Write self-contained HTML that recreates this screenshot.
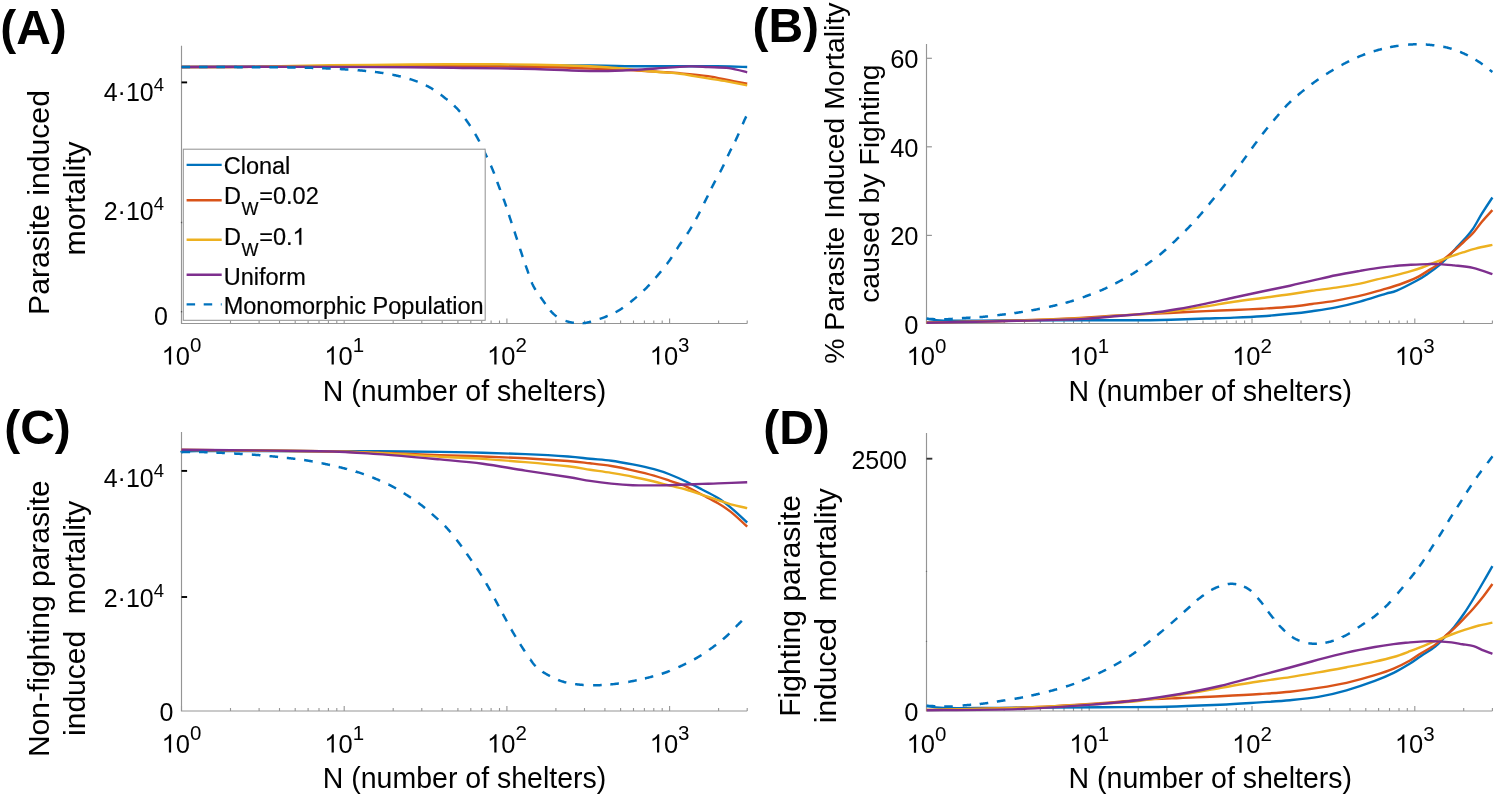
<!DOCTYPE html>
<html><head><meta charset="utf-8"><style>
html,body{margin:0;padding:0;background:#fff;}
svg{display:block;}
text{font-family:"Liberation Sans", sans-serif;fill:#000;}
</style></head><body>
<svg width="1500" height="796" viewBox="0 0 1500 796">
<rect width="1500" height="796" fill="#fff"/>
<path d="M181.5,45.7 L181.5,323.5 L747.2,323.5" fill="none" stroke="#959595" stroke-width="1.15"/>
<line x1="181.5" y1="323.5" x2="181.5" y2="318.5" stroke="#959595" stroke-width="1.1"/>
<line x1="230.5" y1="323.5" x2="230.5" y2="320.5" stroke="#959595" stroke-width="1.1"/>
<line x1="259.1" y1="323.5" x2="259.1" y2="320.5" stroke="#959595" stroke-width="1.1"/>
<line x1="279.5" y1="323.5" x2="279.5" y2="320.5" stroke="#959595" stroke-width="1.1"/>
<line x1="295.2" y1="323.5" x2="295.2" y2="320.5" stroke="#959595" stroke-width="1.1"/>
<line x1="308.1" y1="323.5" x2="308.1" y2="320.5" stroke="#959595" stroke-width="1.1"/>
<line x1="319.0" y1="323.5" x2="319.0" y2="320.5" stroke="#959595" stroke-width="1.1"/>
<line x1="328.4" y1="323.5" x2="328.4" y2="320.5" stroke="#959595" stroke-width="1.1"/>
<line x1="336.8" y1="323.5" x2="336.8" y2="320.5" stroke="#959595" stroke-width="1.1"/>
<line x1="344.2" y1="323.5" x2="344.2" y2="318.5" stroke="#959595" stroke-width="1.1"/>
<line x1="393.2" y1="323.5" x2="393.2" y2="320.5" stroke="#959595" stroke-width="1.1"/>
<line x1="421.8" y1="323.5" x2="421.8" y2="320.5" stroke="#959595" stroke-width="1.1"/>
<line x1="442.2" y1="323.5" x2="442.2" y2="320.5" stroke="#959595" stroke-width="1.1"/>
<line x1="457.9" y1="323.5" x2="457.9" y2="320.5" stroke="#959595" stroke-width="1.1"/>
<line x1="470.8" y1="323.5" x2="470.8" y2="320.5" stroke="#959595" stroke-width="1.1"/>
<line x1="481.7" y1="323.5" x2="481.7" y2="320.5" stroke="#959595" stroke-width="1.1"/>
<line x1="491.1" y1="323.5" x2="491.1" y2="320.5" stroke="#959595" stroke-width="1.1"/>
<line x1="499.5" y1="323.5" x2="499.5" y2="320.5" stroke="#959595" stroke-width="1.1"/>
<line x1="506.9" y1="323.5" x2="506.9" y2="318.5" stroke="#959595" stroke-width="1.1"/>
<line x1="555.9" y1="323.5" x2="555.9" y2="320.5" stroke="#959595" stroke-width="1.1"/>
<line x1="584.5" y1="323.5" x2="584.5" y2="320.5" stroke="#959595" stroke-width="1.1"/>
<line x1="604.9" y1="323.5" x2="604.9" y2="320.5" stroke="#959595" stroke-width="1.1"/>
<line x1="620.6" y1="323.5" x2="620.6" y2="320.5" stroke="#959595" stroke-width="1.1"/>
<line x1="633.5" y1="323.5" x2="633.5" y2="320.5" stroke="#959595" stroke-width="1.1"/>
<line x1="644.4" y1="323.5" x2="644.4" y2="320.5" stroke="#959595" stroke-width="1.1"/>
<line x1="653.8" y1="323.5" x2="653.8" y2="320.5" stroke="#959595" stroke-width="1.1"/>
<line x1="662.2" y1="323.5" x2="662.2" y2="320.5" stroke="#959595" stroke-width="1.1"/>
<line x1="669.6" y1="323.5" x2="669.6" y2="318.5" stroke="#959595" stroke-width="1.1"/>
<line x1="718.6" y1="323.5" x2="718.6" y2="320.5" stroke="#959595" stroke-width="1.1"/>
<line x1="747.2" y1="323.5" x2="747.2" y2="320.5" stroke="#959595" stroke-width="1.1"/>
<line x1="181.5" y1="82.4" x2="187.1" y2="82.4" stroke="#000" stroke-width="1.9"/>
<line x1="180.9" y1="222.5" x2="182.20000000000002" y2="222.5" stroke="#555" stroke-width="1.4"/>
<line x1="180.9" y1="311.7" x2="182.20000000000002" y2="311.7" stroke="#555" stroke-width="1.4"/>
<path d="M181.5,67.0 C201.2,66.9 255.2,66.7 300.0,66.5 C344.8,66.3 401.7,66.0 450.0,65.8 C498.3,65.6 559.3,65.4 590.0,65.5 C620.7,65.6 612.8,66.2 634.0,66.3 C655.2,66.4 698.1,66.2 717.0,66.3 C735.9,66.4 742.2,66.9 747.2,67.0" fill="none" stroke="#0072BD" stroke-width="2.4" stroke-linejoin="round"/>
<path d="M181.5,67.0 C194.6,67.0 235.2,67.0 260.0,66.9 C284.8,66.8 306.7,66.6 330.0,66.5 C353.3,66.4 376.7,66.3 400.0,66.3 C423.3,66.2 447.5,66.1 470.0,66.2 C492.5,66.3 515.0,66.4 535.0,66.8 C555.0,67.2 577.2,68.1 590.0,68.5 C602.8,68.9 604.7,68.7 612.0,69.0 C619.3,69.3 622.7,69.6 634.0,70.3 C645.3,71.0 667.7,72.3 680.0,73.3 C692.3,74.3 699.8,74.9 708.0,76.1 C716.2,77.3 722.5,79.0 729.0,80.3 C735.5,81.6 744.2,83.2 747.2,83.8" fill="none" stroke="#D95319" stroke-width="2.4" stroke-linejoin="round"/>
<path d="M181.5,67.0 C192.9,67.0 233.6,67.0 250.0,66.9 C266.4,66.8 266.7,66.6 280.0,66.3 C293.3,66.0 308.3,65.6 330.0,65.3 C351.7,65.0 386.7,64.7 410.0,64.5 C433.3,64.3 449.2,64.2 470.0,64.2 C490.8,64.2 515.0,64.4 535.0,64.7 C555.0,65.0 577.2,65.8 590.0,66.3 C602.8,66.8 604.7,67.2 612.0,67.7 C619.3,68.2 626.7,68.9 634.0,69.6 C641.3,70.3 648.3,71.1 656.0,71.8 C663.7,72.5 673.7,73.0 680.0,73.7 C686.3,74.4 689.3,75.3 694.0,76.1 C698.7,76.9 702.5,77.5 708.0,78.4 C713.5,79.3 720.2,80.2 726.7,81.4 C733.2,82.6 743.8,84.7 747.2,85.4" fill="none" stroke="#EDB120" stroke-width="2.4" stroke-linejoin="round"/>
<path d="M181.5,67.0 C197.9,67.0 241.9,66.8 280.0,66.8 C318.1,66.8 378.3,67.0 410.0,67.2 C441.7,67.4 449.2,67.7 470.0,68.0 C490.8,68.3 515.0,68.5 535.0,69.0 C555.0,69.5 574.7,70.8 590.0,71.0 C605.3,71.2 615.7,70.7 626.7,70.3 C637.7,69.9 645.6,69.2 656.0,68.5 C666.4,67.8 680.3,66.7 689.0,66.4 C697.7,66.2 701.3,66.7 708.0,67.0 C714.7,67.3 722.5,67.2 729.0,68.1 C735.5,69.0 744.2,71.6 747.2,72.3" fill="none" stroke="#7E2F8E" stroke-width="2.4" stroke-linejoin="round"/>
<path d="M181.52,67.00 181.63,67.00 182.02,67.00 182.43,67.00 182.86,67.00 183.31,67.00 183.78,67.00 184.26,67.00 184.77,67.01 185.29,67.01 185.82,67.01 186.38,67.01 186.95,67.01 187.53,67.01 188.13,67.01 188.75,67.01 189.38,67.01 190.02,67.01 190.12,67.01M198.99,67.03 199.23,67.03 200.03,67.03 200.83,67.03 201.65,67.03 202.47,67.03 203.29,67.03 204.13,67.03 204.97,67.04 205.81,67.04 206.67,67.04 207.52,67.04 207.59,67.04M216.41,67.06 216.58,67.06 217.46,67.06 218.35,67.06 219.24,67.07 220.12,67.07 221.01,67.07 221.89,67.07 222.77,67.08 223.65,67.08 224.53,67.08 225.01,67.08M234.17,67.12 234.21,67.12 234.94,67.12 235.68,67.12 236.43,67.12 237.19,67.13 237.95,67.13 238.72,67.13 239.50,67.14 240.29,67.14 241.08,67.14 241.87,67.14 242.67,67.15 242.77,67.15M251.78,67.18 252.03,67.19 252.88,67.19 253.72,67.19 254.56,67.20 255.41,67.20 256.25,67.20 257.10,67.21 257.95,67.21 258.79,67.21 259.63,67.22 260.38,67.22M269.39,67.26 269.57,67.26 270.38,67.27 271.18,67.27 271.97,67.28 272.76,67.28 273.54,67.28 274.31,67.29 275.08,67.29 275.84,67.30 276.59,67.30 277.34,67.31 277.99,67.31M287.00,67.37 287.17,67.37 287.76,67.37 288.33,67.38 288.88,67.38 289.43,67.38 289.96,67.39 290.47,67.39 290.97,67.40 291.86,67.41 293.42,67.42 294.84,67.44 295.60,67.44M304.70,67.65 304.79,67.65 305.24,67.67 305.70,67.69 306.18,67.71 306.69,67.72 307.24,67.74 307.85,67.77 308.52,67.79 309.25,67.81 310.02,67.83 310.78,67.85 311.53,67.87 312.29,67.90 313.05,67.92 313.30,67.93M322.10,68.23 322.35,68.24 323.11,68.27 323.87,68.30 324.62,68.33 325.38,68.36 326.15,68.39 326.90,68.42 327.65,68.45 328.41,68.49 329.16,68.52 329.92,68.55 330.68,68.59 330.70,68.59M339.81,69.05 340.04,69.06 340.80,69.10 341.56,69.15 342.32,69.19 343.09,69.24 343.85,69.28 344.60,69.33 345.35,69.38 346.10,69.43 346.86,69.47 347.61,69.52 348.37,69.57 348.39,69.57M357.62,70.23 357.67,70.24 358.42,70.30 359.17,70.36 359.92,70.42 360.66,70.49 361.41,70.56 362.15,70.62 362.92,70.69 363.68,70.76 364.43,70.83 365.19,70.90 365.94,70.97 366.18,71.00M374.94,71.93 374.94,71.93 375.69,72.03 376.44,72.12 377.19,72.22 377.94,72.32 378.70,72.43 379.45,72.54 380.19,72.64 380.94,72.75 381.68,72.87 382.43,72.98 383.18,73.09 383.45,73.14M392.39,74.71 392.40,74.71 393.14,74.86 393.89,75.01 394.63,75.17 395.37,75.33 396.11,75.49 396.85,75.66 397.58,75.82 398.32,75.99 399.06,76.17 399.80,76.34 400.53,76.52 400.79,76.58M409.52,78.95 409.55,78.96 410.27,79.19 410.99,79.42 411.70,79.65 412.42,79.89 413.13,80.13 413.84,80.38 414.56,80.64 415.27,80.90 415.99,81.17 416.70,81.43 417.41,81.70 417.63,81.79M425.79,85.31 426.01,85.42 426.69,85.76 427.37,86.11 428.04,86.46 428.71,86.81 429.38,87.18 430.04,87.54 430.69,87.92 431.33,88.30 431.98,88.69 432.62,89.09 433.26,89.49 433.29,89.51M440.68,94.69 440.72,94.71 441.32,95.17 441.92,95.62 442.52,96.08 443.11,96.54 443.71,97.00 444.30,97.46 444.91,97.93 445.51,98.40 446.11,98.87 446.71,99.34 447.31,99.82 447.48,99.95M454.05,105.57 454.23,105.74 454.78,106.26 455.33,106.79 455.86,107.33 456.40,107.87 456.93,108.42 457.44,108.97 457.95,109.52 458.45,110.08 458.95,110.64 459.44,111.21 459.92,111.79 459.95,111.82M465.33,118.88 465.45,119.05 465.89,119.67 466.33,120.30 466.77,120.93 467.21,121.56 467.65,122.19 468.08,122.80 468.50,123.41 468.91,124.03 469.33,124.64 469.74,125.26 470.15,125.88 470.21,125.96M475.17,133.97 475.29,134.17 475.67,134.83 476.05,135.49 476.43,136.15 476.80,136.81 477.18,137.48 477.54,138.13 477.90,138.78 478.25,139.44 478.60,140.10 478.96,140.77 479.31,141.44 479.33,141.49M483.37,149.64 483.38,149.65 483.70,150.33 484.03,151.00 484.35,151.67 484.66,152.33 484.98,152.99 485.29,153.64 485.60,154.29 485.93,154.98 486.27,155.70 486.61,156.40 486.95,157.10 487.09,157.39M490.91,165.65 490.92,165.67 491.22,166.35 491.51,167.03 491.81,167.72 492.11,168.42 492.40,169.13 492.69,169.83 492.97,170.51 493.25,171.20 493.53,171.90 493.80,172.59 494.07,173.29 494.18,173.60M497.22,181.86 497.30,182.07 497.56,182.79 497.82,183.51 498.08,184.22 498.35,184.94 498.61,185.66 498.87,186.37 499.14,187.06 499.40,187.77 499.66,188.47 499.93,189.17 500.20,189.88 500.21,189.93M503.45,198.55 503.47,198.61 503.73,199.32 503.98,200.03 504.24,200.73 504.49,201.43 504.74,202.13 504.98,202.84 505.23,203.56 505.48,204.28 505.72,204.99 505.97,205.71 506.20,206.42 506.29,206.67M508.97,214.91 508.98,214.95 509.21,215.66 509.44,216.38 509.67,217.09 509.91,217.81 510.14,218.52 510.38,219.24 510.62,219.96 510.85,220.67 511.09,221.39 511.33,222.11 511.57,222.82 511.65,223.08M514.46,231.52 514.52,231.70 514.76,232.43 515.00,233.16 515.24,233.89 515.48,234.62 515.72,235.35 515.95,236.07 516.19,236.78 516.42,237.50 516.65,238.21 516.88,238.93 517.11,239.65 517.13,239.69M520.06,248.81 520.07,248.85 520.30,249.57 520.54,250.29 520.77,251.00 521.01,251.72 521.24,252.43 521.48,253.14 521.72,253.87 521.96,254.59 522.20,255.31 522.44,256.03 522.68,256.74 522.76,256.98M525.66,265.45 525.67,265.48 525.92,266.19 526.17,266.90 526.42,267.61 526.67,268.32 526.93,269.03 527.18,269.73 527.44,270.44 527.68,271.15 527.93,271.86 528.17,272.57 528.42,273.29 528.51,273.56M531.62,282.19 531.66,282.28 531.95,282.97 532.24,283.66 532.54,284.33 532.86,285.00 533.18,285.66 533.52,286.33 533.88,287.00 534.25,287.68 534.63,288.35 535.02,289.01 535.42,289.67 535.53,289.84M540.38,296.91 540.48,297.04 540.92,297.64 541.35,298.24 541.78,298.84 542.21,299.43 542.62,300.01 543.06,300.62 543.52,301.28 543.99,301.94 544.45,302.60 544.92,303.26 545.38,303.91M550.33,310.50 550.40,310.59 550.84,311.11 551.28,311.61 551.71,312.09 552.21,312.62 552.84,313.26 553.45,313.85 554.04,314.40 554.63,314.91 555.21,315.39 555.79,315.84 556.37,316.26 556.56,316.40M565.53,320.87 565.63,320.90 566.35,321.14 567.07,321.36 567.78,321.57 568.49,321.76 569.17,321.94 569.93,322.13 570.70,322.29 571.47,322.44 572.23,322.56 572.98,322.66 573.73,322.74 573.90,322.76M582.64,323.17 582.76,323.17 583.51,323.12 584.32,323.04 585.21,322.92 586.19,322.74 587.09,322.56 587.66,322.43 588.27,322.29 588.90,322.14 589.55,321.97 590.23,321.80 590.92,321.62 591.08,321.57M599.66,318.96 599.78,318.92 600.54,318.65 601.29,318.39 602.03,318.12 602.76,317.86 603.47,317.59 604.17,317.32 604.87,317.04 605.57,316.77 606.27,316.48 606.96,316.20 607.66,315.91 607.69,315.90M615.55,312.21 615.57,312.20 616.24,311.85 616.90,311.48 617.56,311.12 618.21,310.74 618.87,310.36 619.51,309.97 620.14,309.58 620.77,309.19 621.39,308.78 622.02,308.37 622.64,307.95 622.91,307.76M630.27,302.21 630.29,302.19 630.88,301.72 631.47,301.24 632.05,300.77 632.64,300.29 633.21,299.82 633.79,299.34 634.38,298.86 634.96,298.37 635.54,297.89 636.11,297.40 636.69,296.91 636.89,296.73M643.53,290.71 643.56,290.68 644.10,290.16 644.64,289.64 645.18,289.11 645.71,288.59 646.25,288.06 646.78,287.52 647.30,286.99 647.83,286.45 648.34,285.90 648.86,285.36 649.37,284.81 649.58,284.60M655.52,277.88 655.53,277.87 656.02,277.30 656.51,276.72 657.00,276.15 657.49,275.57 657.97,274.99 658.46,274.41 658.94,273.84 659.42,273.26 659.91,272.69 660.39,272.11 660.87,271.53 661.06,271.30M666.84,264.06 666.85,264.05 667.30,263.45 667.76,262.84 668.21,262.24 668.66,261.62 669.10,261.01 669.54,260.40 669.98,259.78 670.40,259.17 670.82,258.55 671.24,257.93 671.66,257.30 671.82,257.05M676.87,249.01 676.88,249.00 677.28,248.36 677.69,247.72 678.10,247.09 678.51,246.45 678.92,245.82 679.34,245.19 679.76,244.56 680.19,243.93 680.62,243.31 681.05,242.68 681.49,242.05 681.63,241.85M687.14,234.00 687.18,233.94 687.60,233.31 688.02,232.69 688.43,232.07 688.84,231.44 689.24,230.82 689.64,230.18 690.05,229.52 690.45,228.86 690.85,228.20 691.24,227.55 691.63,226.89 691.73,226.73M695.97,219.19 696.07,219.00 696.43,218.33 696.79,217.66 697.15,216.99 697.52,216.31 697.88,215.63 698.23,214.96 698.58,214.30 698.93,213.64 699.27,212.97 699.62,212.29 699.96,211.62 699.98,211.58M704.10,203.26 704.14,203.18 704.47,202.51 704.80,201.83 705.13,201.16 705.46,200.50 705.78,199.84 706.12,199.17 706.46,198.47 706.80,197.77 707.14,197.08 707.48,196.40 707.81,195.72 707.89,195.54M711.46,188.24 711.54,188.08 711.88,187.40 712.22,186.72 712.57,186.03 712.92,185.33 713.28,184.63 713.62,183.97 713.96,183.32 714.31,182.67 714.66,182.01 715.01,181.35 715.37,180.69 715.42,180.60M720.01,172.21 720.02,172.20 720.38,171.53 720.73,170.85 721.09,170.18 721.43,169.51 721.78,168.84 722.11,168.17 722.46,167.48 722.79,166.80 723.13,166.11 723.46,165.41 723.79,164.72 723.88,164.53M727.67,156.29 727.70,156.22 728.02,155.54 728.33,154.86 728.65,154.18 728.97,153.51 729.29,152.84 729.61,152.17 729.95,151.48 730.28,150.80 730.62,150.13 730.96,149.46 731.29,148.79 731.42,148.55M735.13,141.27 735.22,141.11 735.55,140.43 735.89,139.74 736.22,139.05 736.55,138.35 736.89,137.64 737.20,136.96 737.51,136.28 737.83,135.58 738.15,134.86 738.47,134.13 738.76,133.48M742.70,124.25 742.73,124.16 743.02,123.50 743.29,122.86 743.55,122.25 743.80,121.67 744.04,121.13 744.26,120.62 744.60,119.86 745.14,118.67 745.60,117.69 745.99,116.89 746.22,116.41" fill="none" stroke="#0072BD" stroke-width="2.5" stroke-linejoin="round"/>
<rect x="183.3" y="149.2" width="301.9" height="171.1" fill="#fff" stroke="#959595" stroke-width="1.05"/>
<line x1="186.6" y1="164.9" x2="221.7" y2="164.9" stroke="#0072BD" stroke-width="2.4"/>
<line x1="186.6" y1="200.3" x2="221.7" y2="200.3" stroke="#D95319" stroke-width="2.4"/>
<line x1="186.6" y1="239.8" x2="221.7" y2="239.8" stroke="#EDB120" stroke-width="2.4"/>
<line x1="186.6" y1="274.7" x2="221.7" y2="274.7" stroke="#7E2F8E" stroke-width="2.4"/>
<line x1="186.6" y1="304.4" x2="221.7" y2="304.4" stroke="#0072BD" stroke-width="2.4" stroke-dasharray="8.5 8.6"/>
<path d="M926.5,43.9 L926.5,323.5 L1492.4,323.5" fill="none" stroke="#959595" stroke-width="1.15"/>
<line x1="926.5" y1="323.5" x2="926.5" y2="318.5" stroke="#959595" stroke-width="1.1"/>
<line x1="975.5" y1="323.5" x2="975.5" y2="320.5" stroke="#959595" stroke-width="1.1"/>
<line x1="1004.2" y1="323.5" x2="1004.2" y2="320.5" stroke="#959595" stroke-width="1.1"/>
<line x1="1024.5" y1="323.5" x2="1024.5" y2="320.5" stroke="#959595" stroke-width="1.1"/>
<line x1="1040.3" y1="323.5" x2="1040.3" y2="320.5" stroke="#959595" stroke-width="1.1"/>
<line x1="1053.1" y1="323.5" x2="1053.1" y2="320.5" stroke="#959595" stroke-width="1.1"/>
<line x1="1064.0" y1="323.5" x2="1064.0" y2="320.5" stroke="#959595" stroke-width="1.1"/>
<line x1="1073.5" y1="323.5" x2="1073.5" y2="320.5" stroke="#959595" stroke-width="1.1"/>
<line x1="1081.8" y1="323.5" x2="1081.8" y2="320.5" stroke="#959595" stroke-width="1.1"/>
<line x1="1089.2" y1="323.5" x2="1089.2" y2="318.5" stroke="#959595" stroke-width="1.1"/>
<line x1="1138.2" y1="323.5" x2="1138.2" y2="320.5" stroke="#959595" stroke-width="1.1"/>
<line x1="1166.9" y1="323.5" x2="1166.9" y2="320.5" stroke="#959595" stroke-width="1.1"/>
<line x1="1187.2" y1="323.5" x2="1187.2" y2="320.5" stroke="#959595" stroke-width="1.1"/>
<line x1="1203.0" y1="323.5" x2="1203.0" y2="320.5" stroke="#959595" stroke-width="1.1"/>
<line x1="1215.9" y1="323.5" x2="1215.9" y2="320.5" stroke="#959595" stroke-width="1.1"/>
<line x1="1226.8" y1="323.5" x2="1226.8" y2="320.5" stroke="#959595" stroke-width="1.1"/>
<line x1="1236.2" y1="323.5" x2="1236.2" y2="320.5" stroke="#959595" stroke-width="1.1"/>
<line x1="1244.6" y1="323.5" x2="1244.6" y2="320.5" stroke="#959595" stroke-width="1.1"/>
<line x1="1252.0" y1="323.5" x2="1252.0" y2="318.5" stroke="#959595" stroke-width="1.1"/>
<line x1="1301.0" y1="323.5" x2="1301.0" y2="320.5" stroke="#959595" stroke-width="1.1"/>
<line x1="1329.7" y1="323.5" x2="1329.7" y2="320.5" stroke="#959595" stroke-width="1.1"/>
<line x1="1350.0" y1="323.5" x2="1350.0" y2="320.5" stroke="#959595" stroke-width="1.1"/>
<line x1="1365.8" y1="323.5" x2="1365.8" y2="320.5" stroke="#959595" stroke-width="1.1"/>
<line x1="1378.6" y1="323.5" x2="1378.6" y2="320.5" stroke="#959595" stroke-width="1.1"/>
<line x1="1389.5" y1="323.5" x2="1389.5" y2="320.5" stroke="#959595" stroke-width="1.1"/>
<line x1="1399.0" y1="323.5" x2="1399.0" y2="320.5" stroke="#959595" stroke-width="1.1"/>
<line x1="1407.3" y1="323.5" x2="1407.3" y2="320.5" stroke="#959595" stroke-width="1.1"/>
<line x1="1414.8" y1="323.5" x2="1414.8" y2="318.5" stroke="#959595" stroke-width="1.1"/>
<line x1="1463.7" y1="323.5" x2="1463.7" y2="320.5" stroke="#959595" stroke-width="1.1"/>
<line x1="1492.4" y1="323.5" x2="1492.4" y2="320.5" stroke="#959595" stroke-width="1.1"/>
<line x1="926.5" y1="58.3" x2="931.9" y2="58.3" stroke="#959595" stroke-width="1.2"/>
<line x1="926.5" y1="146.8" x2="931.9" y2="146.8" stroke="#959595" stroke-width="1.2"/>
<line x1="926.5" y1="235.4" x2="931.9" y2="235.4" stroke="#959595" stroke-width="1.2"/>
<path d="M926.7,318.6 C929.6,318.9 931.8,320.3 944.0,320.6 C956.2,320.9 977.3,320.6 1000.0,320.5 C1022.7,320.4 1055.0,320.2 1080.0,320.2 C1105.0,320.2 1133.7,320.4 1150.0,320.3 C1166.3,320.2 1168.7,319.8 1178.0,319.5 C1187.3,319.2 1196.7,318.8 1206.0,318.5 C1215.3,318.2 1224.7,318.0 1234.0,317.6 C1243.3,317.2 1252.7,316.8 1262.0,316.2 C1271.3,315.6 1281.7,314.6 1290.0,313.8 C1298.3,313.0 1304.3,312.3 1312.0,311.2 C1319.7,310.1 1328.0,309.0 1336.0,307.4 C1344.0,305.8 1351.8,303.9 1360.0,301.6 C1368.2,299.3 1379.3,295.6 1385.4,293.8 C1391.5,292.0 1391.5,292.9 1396.7,290.7 C1401.9,288.5 1411.3,283.6 1416.5,280.8 C1421.7,278.0 1424.0,276.3 1427.8,273.7 C1431.6,271.1 1436.1,267.8 1439.1,265.3 C1442.1,262.9 1443.3,261.7 1446.0,259.0 C1448.7,256.3 1452.3,252.2 1455.3,249.0 C1458.3,245.8 1461.2,242.9 1464.1,239.6 C1467.0,236.2 1470.0,233.2 1472.9,228.9 C1475.8,224.6 1478.5,219.1 1481.7,213.9 C1485.0,208.7 1490.6,200.2 1492.4,197.5" fill="none" stroke="#0072BD" stroke-width="2.4" stroke-linejoin="round"/>
<path d="M926.7,322.4 C938.9,322.2 974.5,321.7 1000.0,321.0 C1025.5,320.3 1061.0,318.9 1080.0,318.0 C1099.0,317.1 1102.3,316.4 1114.0,315.7 C1125.7,315.0 1139.3,314.4 1150.0,313.9 C1160.7,313.4 1168.7,313.0 1178.0,312.5 C1187.3,312.0 1196.7,311.5 1206.0,311.1 C1215.3,310.7 1224.7,310.4 1234.0,310.0 C1243.3,309.6 1252.7,309.2 1262.0,308.7 C1271.3,308.1 1281.7,307.5 1290.0,306.7 C1298.3,305.9 1304.3,305.0 1312.0,304.0 C1319.7,303.0 1327.0,302.2 1336.0,300.6 C1345.0,299.0 1357.9,296.2 1365.7,294.4 C1373.5,292.6 1376.9,291.2 1382.6,289.6 C1388.2,288.0 1393.9,286.5 1399.6,284.5 C1405.2,282.5 1411.8,280.0 1416.5,277.7 C1421.2,275.4 1424.0,273.2 1427.8,270.9 C1431.6,268.5 1436.1,265.8 1439.1,263.6 C1442.1,261.4 1443.3,259.8 1446.0,257.5 C1448.7,255.2 1452.3,252.4 1455.3,249.7 C1458.3,247.0 1461.2,244.2 1464.1,241.5 C1467.0,238.8 1470.0,236.6 1472.9,233.3 C1475.8,230.1 1478.5,225.9 1481.7,222.0 C1485.0,218.1 1490.6,212.1 1492.4,210.1" fill="none" stroke="#D95319" stroke-width="2.4" stroke-linejoin="round"/>
<path d="M926.7,322.6 C938.9,322.3 974.5,321.7 1000.0,321.0 C1025.5,320.3 1061.0,319.3 1080.0,318.5 C1099.0,317.7 1102.3,316.8 1114.0,316.0 C1125.7,315.2 1139.3,314.4 1150.0,313.5 C1160.7,312.6 1168.7,311.8 1178.0,310.6 C1187.3,309.4 1196.7,307.9 1206.0,306.4 C1215.3,304.9 1224.7,303.1 1234.0,301.7 C1243.3,300.3 1252.7,299.2 1262.0,298.0 C1271.3,296.8 1281.7,295.5 1290.0,294.3 C1298.3,293.1 1304.3,291.9 1312.0,290.8 C1319.7,289.7 1328.0,288.8 1336.0,287.6 C1344.0,286.4 1353.2,285.0 1360.0,283.6 C1366.8,282.2 1371.3,280.7 1377.0,279.4 C1382.7,278.1 1388.2,277.1 1393.9,275.7 C1399.6,274.3 1406.2,272.6 1410.9,271.2 C1415.6,269.8 1418.4,268.9 1422.2,267.5 C1426.0,266.1 1428.8,264.7 1433.5,262.9 C1438.2,261.1 1445.4,258.4 1450.3,256.6 C1455.2,254.9 1458.6,253.7 1462.8,252.4 C1467.0,251.1 1470.5,249.8 1475.4,248.6 C1480.3,247.3 1489.6,245.5 1492.4,244.9" fill="none" stroke="#EDB120" stroke-width="2.4" stroke-linejoin="round"/>
<path d="M926.7,322.8 C938.9,322.5 974.5,321.8 1000.0,321.2 C1025.5,320.6 1061.0,319.9 1080.0,319.1 C1099.0,318.3 1102.3,317.3 1114.0,316.3 C1125.7,315.3 1139.3,314.3 1150.0,313.1 C1160.7,311.9 1168.7,310.6 1178.0,309.0 C1187.3,307.4 1196.7,305.5 1206.0,303.6 C1215.3,301.7 1224.7,299.5 1234.0,297.5 C1243.3,295.5 1252.7,293.5 1262.0,291.5 C1271.3,289.5 1281.7,287.5 1290.0,285.7 C1298.3,283.9 1304.3,282.3 1312.0,280.6 C1319.7,278.9 1328.0,276.9 1336.0,275.3 C1344.0,273.7 1353.2,272.1 1360.0,270.9 C1366.8,269.7 1371.3,268.9 1377.0,268.1 C1382.7,267.3 1388.2,266.7 1393.9,266.1 C1399.6,265.6 1405.2,265.1 1410.9,264.8 C1416.6,264.5 1423.0,264.2 1427.8,264.1 C1432.6,264.0 1435.6,263.9 1440.0,264.1 C1444.4,264.3 1448.5,264.8 1454.0,265.4 C1459.5,266.0 1466.5,266.4 1472.9,267.9 C1479.3,269.4 1489.2,273.1 1492.4,274.2" fill="none" stroke="#7E2F8E" stroke-width="2.4" stroke-linejoin="round"/>
<path d="M926.70,318.80 926.83,318.80 927.26,318.82 927.74,318.84 928.27,318.86 928.85,318.89 929.48,318.92 930.14,318.95 930.84,318.98 931.58,319.02 932.35,319.06 933.14,319.09 933.96,319.13 934.80,319.16 935.29,319.18M944.19,319.30 944.40,319.30 945.10,319.28 945.81,319.26 946.52,319.23 947.25,319.20 947.99,319.16 948.73,319.12 949.49,319.08 950.24,319.03 951.01,318.98 951.78,318.93 952.55,318.87 952.78,318.86M961.92,318.15 962.03,318.14 962.77,318.08 963.50,318.03 964.22,317.98 964.93,317.93 965.67,317.88 966.48,317.83 967.27,317.79 968.06,317.74 968.84,317.70 969.62,317.65 970.38,317.61 970.50,317.61M979.46,317.11 979.53,317.11 980.27,317.06 981.01,317.00 981.75,316.95 982.50,316.89 983.25,316.82 984.00,316.75 984.76,316.68 985.52,316.61 986.28,316.53 987.04,316.46 987.80,316.38 988.03,316.35M997.33,315.23 997.40,315.22 998.15,315.13 998.90,315.04 999.64,314.94 1000.38,314.85 1001.11,314.76 1001.86,314.67 1002.63,314.57 1003.40,314.48 1004.16,314.39 1004.92,314.30 1005.68,314.20 1005.87,314.18M1014.34,313.11 1014.38,313.10 1015.12,313.00 1015.86,312.90 1016.61,312.79 1017.35,312.68 1018.10,312.57 1018.85,312.46 1019.60,312.35 1020.35,312.23 1021.09,312.12 1021.84,312.00 1022.59,311.88 1022.85,311.84M1031.37,310.39 1031.56,310.35 1032.31,310.21 1033.07,310.08 1033.83,309.93 1034.58,309.79 1035.35,309.65 1036.09,309.51 1036.82,309.36 1037.56,309.22 1038.30,309.08 1039.05,308.93 1039.80,308.78 1039.82,308.78M1049.01,306.85 1049.05,306.84 1049.79,306.67 1050.53,306.51 1051.26,306.34 1051.99,306.18 1052.72,306.01 1053.45,305.84 1054.20,305.67 1054.95,305.49 1055.69,305.32 1056.43,305.15 1057.16,304.97 1057.39,304.92M1065.56,302.87 1065.61,302.85 1066.33,302.66 1067.05,302.46 1067.77,302.26 1068.50,302.05 1069.22,301.84 1069.94,301.63 1070.66,301.41 1071.38,301.19 1072.10,300.97 1072.81,300.75 1073.52,300.52 1073.81,300.43M1082.71,297.39 1082.81,297.36 1083.54,297.10 1084.27,296.83 1085.01,296.56 1085.75,296.29 1086.45,296.03 1087.14,295.78 1087.83,295.53 1088.52,295.27 1089.22,295.01 1089.92,294.75 1090.63,294.48 1090.79,294.43M1099.55,290.99 1099.64,290.95 1100.33,290.66 1101.02,290.37 1101.71,290.08 1102.39,289.79 1103.06,289.50 1103.74,289.19 1104.45,288.87 1105.16,288.55 1105.87,288.23 1106.56,287.90 1107.26,287.57 1107.41,287.50M1115.30,283.52 1115.33,283.51 1116.00,283.16 1116.66,282.80 1117.33,282.45 1117.99,282.10 1118.66,281.74 1119.32,281.38 1119.99,281.02 1120.66,280.66 1121.32,280.30 1121.98,279.93 1122.65,279.57 1122.88,279.44M1130.53,275.04 1130.53,275.04 1131.18,274.65 1131.83,274.26 1132.48,273.86 1133.13,273.47 1133.77,273.07 1134.41,272.67 1135.04,272.27 1135.68,271.87 1136.31,271.47 1136.94,271.06 1137.56,270.65 1137.82,270.49M1145.20,265.49 1145.22,265.47 1145.84,265.04 1146.45,264.61 1147.06,264.17 1147.68,263.73 1148.29,263.29 1148.90,262.85 1149.51,262.42 1150.11,261.98 1150.72,261.54 1151.32,261.10 1151.93,260.66 1152.18,260.47M1159.47,254.92 1159.51,254.89 1160.10,254.42 1160.68,253.95 1161.26,253.48 1161.84,253.00 1162.42,252.52 1162.99,252.04 1163.57,251.55 1164.15,251.05 1164.72,250.55 1165.29,250.05 1165.86,249.54 1166.04,249.38M1172.70,243.18 1172.71,243.16 1173.26,242.64 1173.80,242.11 1174.35,241.59 1174.89,241.07 1175.44,240.55 1175.98,240.02 1176.53,239.50 1177.08,238.97 1177.63,238.44 1178.18,237.91 1178.72,237.38 1178.90,237.22M1185.20,230.98 1185.36,230.81 1185.90,230.27 1186.43,229.72 1186.96,229.18 1187.49,228.63 1188.02,228.08 1188.55,227.54 1189.07,226.99 1189.59,226.45 1190.12,225.90 1190.64,225.36 1191.16,224.81 1191.17,224.79M1197.35,218.12 1197.51,217.93 1198.02,217.37 1198.53,216.80 1199.03,216.23 1199.53,215.66 1200.03,215.09 1200.53,214.52 1201.02,213.96 1201.50,213.39 1201.99,212.82 1202.47,212.24 1202.95,211.67 1202.99,211.63M1208.78,204.53 1208.81,204.50 1209.28,203.92 1209.76,203.34 1210.23,202.75 1210.71,202.17 1211.18,201.59 1211.66,201.01 1212.14,200.43 1212.62,199.84 1213.10,199.26 1213.58,198.68 1214.06,198.10 1214.24,197.88M1220.11,190.75 1220.14,190.72 1220.61,190.14 1221.08,189.55 1221.55,188.96 1222.02,188.38 1222.49,187.79 1222.96,187.20 1223.43,186.61 1223.89,186.01 1224.36,185.41 1224.83,184.82 1225.29,184.22 1225.45,184.01M1230.91,176.83 1230.92,176.82 1231.38,176.22 1231.83,175.61 1232.29,175.01 1232.74,174.41 1233.20,173.80 1233.65,173.20 1234.11,172.59 1234.57,171.99 1235.02,171.38 1235.48,170.78 1235.94,170.17 1236.09,169.97M1241.55,162.66 1241.56,162.65 1242.01,162.04 1242.46,161.43 1242.91,160.82 1243.36,160.21 1243.80,159.61 1244.25,158.99 1244.70,158.38 1245.15,157.76 1245.59,157.14 1246.04,156.52 1246.48,155.91 1246.62,155.71M1251.77,148.48 1251.91,148.29 1252.35,147.67 1252.80,147.05 1253.25,146.44 1253.70,145.82 1254.15,145.21 1254.60,144.60 1255.05,143.99 1255.50,143.38 1255.95,142.77 1256.40,142.17 1256.85,141.56 1256.86,141.54M1262.35,134.29 1262.50,134.09 1262.97,133.49 1263.44,132.89 1263.90,132.29 1264.37,131.69 1264.84,131.10 1265.31,130.50 1265.79,129.91 1266.26,129.32 1266.74,128.73 1267.22,128.14 1267.70,127.55 1267.70,127.55M1273.51,120.57 1273.52,120.56 1274.01,119.98 1274.50,119.40 1274.99,118.83 1275.48,118.25 1275.97,117.68 1276.47,117.11 1276.96,116.53 1277.46,115.94 1277.95,115.36 1278.45,114.78 1278.94,114.20 1279.09,114.02M1284.93,107.31 1285.10,107.13 1285.62,106.57 1286.14,106.02 1286.66,105.47 1287.19,104.92 1287.72,104.38 1288.25,103.85 1288.79,103.32 1289.32,102.79 1289.87,102.27 1290.41,101.76 1290.96,101.24 1290.99,101.21M1297.70,95.26 1297.72,95.25 1298.30,94.76 1298.88,94.27 1299.45,93.79 1300.03,93.30 1300.61,92.82 1301.19,92.34 1301.78,91.86 1302.36,91.38 1302.95,90.90 1303.53,90.42 1304.12,89.95 1304.33,89.78M1311.53,84.23 1311.73,84.08 1312.34,83.63 1312.95,83.18 1313.56,82.74 1314.18,82.29 1314.79,81.85 1315.41,81.41 1316.02,80.98 1316.63,80.55 1317.24,80.12 1317.86,79.69 1318.47,79.26 1318.52,79.23M1326.15,74.18 1326.19,74.16 1326.82,73.75 1327.46,73.35 1328.10,72.95 1328.73,72.56 1329.37,72.16 1330.01,71.77 1330.66,71.38 1331.30,70.99 1331.94,70.60 1332.59,70.21 1333.24,69.82 1333.48,69.68M1341.50,65.11 1341.55,65.09 1342.21,64.73 1342.87,64.38 1343.53,64.02 1344.19,63.67 1344.86,63.33 1345.52,62.98 1346.20,62.64 1346.87,62.30 1347.54,61.95 1348.22,61.61 1348.89,61.28 1349.14,61.16M1357.23,57.36 1357.28,57.34 1357.97,57.04 1358.66,56.75 1359.35,56.46 1360.04,56.17 1360.74,55.89 1361.43,55.61 1362.13,55.33 1362.83,55.06 1363.54,54.79 1364.24,54.52 1364.95,54.26 1365.22,54.16M1373.67,51.31 1373.76,51.29 1374.48,51.07 1375.19,50.86 1375.90,50.64 1376.62,50.44 1377.33,50.23 1378.05,50.03 1378.79,49.83 1379.52,49.63 1380.25,49.43 1380.98,49.24 1381.71,49.05 1381.95,48.99M1390.07,47.16 1390.25,47.12 1391.00,46.98 1391.75,46.84 1392.51,46.71 1393.27,46.57 1394.04,46.44 1394.78,46.32 1395.51,46.20 1396.24,46.09 1396.98,45.98 1397.72,45.87 1398.47,45.76 1398.55,45.75M1408.11,44.66 1408.12,44.66 1408.88,44.61 1409.64,44.55 1410.40,44.50 1411.15,44.46 1411.90,44.42 1412.66,44.39 1413.42,44.36 1414.19,44.34 1414.95,44.32 1415.72,44.31 1416.48,44.30 1416.70,44.30M1425.81,44.56 1425.83,44.56 1426.59,44.61 1427.34,44.67 1428.09,44.73 1428.85,44.79 1429.60,44.85 1430.35,44.92 1431.10,45.00 1431.86,45.07 1432.61,45.15 1433.36,45.23 1434.12,45.32 1434.38,45.35M1443.31,46.75 1443.34,46.75 1444.08,46.90 1444.82,47.06 1445.55,47.23 1446.29,47.40 1447.02,47.58 1447.74,47.76 1448.47,47.95 1449.19,48.15 1449.92,48.36 1450.64,48.57 1451.36,48.79 1451.64,48.87M1460.05,51.90 1460.11,51.92 1460.80,52.21 1461.49,52.50 1462.18,52.80 1462.87,53.09 1463.55,53.40 1464.23,53.70 1464.91,54.02 1465.60,54.34 1466.28,54.67 1466.96,55.00 1467.63,55.34 1467.87,55.47M1475.46,59.71 1475.54,59.76 1476.18,60.15 1476.81,60.54 1477.44,60.94 1478.07,61.34 1478.69,61.73 1479.32,62.14 1479.98,62.58 1480.65,63.04 1481.34,63.53 1482.04,64.02 1482.63,64.45M1489.69,69.88 1489.78,69.95 1490.32,70.37 1490.82,70.77 1491.28,71.13 1491.70,71.46 1492.07,71.75 1492.40,72.00" fill="none" stroke="#0072BD" stroke-width="2.5" stroke-linejoin="round"/>
<path d="M181.5,432 L181.5,711.0 L747.2,711.0" fill="none" stroke="#959595" stroke-width="1.15"/>
<line x1="181.5" y1="711.0" x2="181.5" y2="706.0" stroke="#959595" stroke-width="1.1"/>
<line x1="230.5" y1="711.0" x2="230.5" y2="708.0" stroke="#959595" stroke-width="1.1"/>
<line x1="259.1" y1="711.0" x2="259.1" y2="708.0" stroke="#959595" stroke-width="1.1"/>
<line x1="279.5" y1="711.0" x2="279.5" y2="708.0" stroke="#959595" stroke-width="1.1"/>
<line x1="295.2" y1="711.0" x2="295.2" y2="708.0" stroke="#959595" stroke-width="1.1"/>
<line x1="308.1" y1="711.0" x2="308.1" y2="708.0" stroke="#959595" stroke-width="1.1"/>
<line x1="319.0" y1="711.0" x2="319.0" y2="708.0" stroke="#959595" stroke-width="1.1"/>
<line x1="328.4" y1="711.0" x2="328.4" y2="708.0" stroke="#959595" stroke-width="1.1"/>
<line x1="336.8" y1="711.0" x2="336.8" y2="708.0" stroke="#959595" stroke-width="1.1"/>
<line x1="344.2" y1="711.0" x2="344.2" y2="706.0" stroke="#959595" stroke-width="1.1"/>
<line x1="393.2" y1="711.0" x2="393.2" y2="708.0" stroke="#959595" stroke-width="1.1"/>
<line x1="421.8" y1="711.0" x2="421.8" y2="708.0" stroke="#959595" stroke-width="1.1"/>
<line x1="442.2" y1="711.0" x2="442.2" y2="708.0" stroke="#959595" stroke-width="1.1"/>
<line x1="457.9" y1="711.0" x2="457.9" y2="708.0" stroke="#959595" stroke-width="1.1"/>
<line x1="470.8" y1="711.0" x2="470.8" y2="708.0" stroke="#959595" stroke-width="1.1"/>
<line x1="481.7" y1="711.0" x2="481.7" y2="708.0" stroke="#959595" stroke-width="1.1"/>
<line x1="491.1" y1="711.0" x2="491.1" y2="708.0" stroke="#959595" stroke-width="1.1"/>
<line x1="499.5" y1="711.0" x2="499.5" y2="708.0" stroke="#959595" stroke-width="1.1"/>
<line x1="506.9" y1="711.0" x2="506.9" y2="706.0" stroke="#959595" stroke-width="1.1"/>
<line x1="555.9" y1="711.0" x2="555.9" y2="708.0" stroke="#959595" stroke-width="1.1"/>
<line x1="584.5" y1="711.0" x2="584.5" y2="708.0" stroke="#959595" stroke-width="1.1"/>
<line x1="604.9" y1="711.0" x2="604.9" y2="708.0" stroke="#959595" stroke-width="1.1"/>
<line x1="620.6" y1="711.0" x2="620.6" y2="708.0" stroke="#959595" stroke-width="1.1"/>
<line x1="633.5" y1="711.0" x2="633.5" y2="708.0" stroke="#959595" stroke-width="1.1"/>
<line x1="644.4" y1="711.0" x2="644.4" y2="708.0" stroke="#959595" stroke-width="1.1"/>
<line x1="653.8" y1="711.0" x2="653.8" y2="708.0" stroke="#959595" stroke-width="1.1"/>
<line x1="662.2" y1="711.0" x2="662.2" y2="708.0" stroke="#959595" stroke-width="1.1"/>
<line x1="669.6" y1="711.0" x2="669.6" y2="706.0" stroke="#959595" stroke-width="1.1"/>
<line x1="718.6" y1="711.0" x2="718.6" y2="708.0" stroke="#959595" stroke-width="1.1"/>
<line x1="747.2" y1="711.0" x2="747.2" y2="708.0" stroke="#959595" stroke-width="1.1"/>
<line x1="181.5" y1="470.9" x2="187.1" y2="470.9" stroke="#000" stroke-width="1.9"/>
<line x1="181.5" y1="597" x2="187.1" y2="597" stroke="#000" stroke-width="1.9"/>
<path d="M181.5,452.3 C184.1,452.1 173.7,451.2 196.8,451.0 C219.9,450.8 289.8,451.1 320.0,451.2 C350.2,451.2 357.9,451.2 377.9,451.3 C397.9,451.4 422.5,451.7 440.0,451.9 C457.5,452.1 468.5,452.3 482.7,452.7 C496.9,453.1 511.1,453.5 525.3,454.1 C539.5,454.7 557.2,455.7 568.0,456.5 C578.8,457.3 582.8,458.0 590.0,458.7 C597.2,459.4 604.2,459.8 611.3,460.7 C618.4,461.6 625.6,463.0 632.7,464.4 C639.8,465.8 647.8,467.5 654.0,469.2 C660.2,470.9 664.7,472.4 670.0,474.5 C675.3,476.6 680.7,479.0 686.0,481.5 C691.3,484.0 696.7,486.8 702.0,489.5 C707.3,492.2 713.2,495.0 718.0,498.0 C722.8,501.0 725.9,503.5 730.8,507.6 C735.7,511.7 744.5,520.0 747.2,522.5" fill="none" stroke="#0072BD" stroke-width="2.4" stroke-linejoin="round"/>
<path d="M181.5,449.9 C204.6,450.1 287.3,450.7 320.0,451.2 C352.7,451.7 357.9,452.1 377.9,452.8 C397.9,453.5 422.5,454.5 440.0,455.1 C457.5,455.7 468.5,456.0 482.7,456.5 C496.9,457.0 511.1,457.6 525.3,458.3 C539.5,459.1 557.2,460.2 568.0,461.0 C578.8,461.8 582.8,462.5 590.0,463.3 C597.2,464.1 604.2,464.8 611.3,466.0 C618.4,467.2 625.6,468.7 632.7,470.3 C639.8,471.9 647.8,473.8 654.0,475.6 C660.2,477.4 664.7,479.1 670.0,480.9 C675.3,482.7 680.7,484.0 686.0,486.3 C691.3,488.6 696.7,492.0 702.0,494.8 C707.3,497.6 713.2,500.5 718.0,503.3 C722.8,506.1 725.9,508.0 730.8,511.9 C735.7,515.8 744.5,524.1 747.2,526.6" fill="none" stroke="#D95319" stroke-width="2.4" stroke-linejoin="round"/>
<path d="M181.5,449.9 C204.6,450.1 287.3,450.7 320.0,451.2 C352.7,451.7 357.9,452.1 377.9,453.0 C397.9,453.9 422.5,455.7 440.0,456.7 C457.5,457.7 468.5,458.0 482.7,458.9 C496.9,459.8 511.1,460.9 525.3,462.1 C539.5,463.3 557.2,465.0 568.0,466.3 C578.8,467.6 582.8,468.6 590.0,469.7 C597.2,470.8 604.2,471.7 611.3,472.9 C618.4,474.1 625.6,475.3 632.7,476.7 C639.8,478.1 647.8,480.0 654.0,481.5 C660.2,483.0 664.7,484.4 670.0,485.7 C675.3,487.0 680.7,488.0 686.0,489.5 C691.3,491.0 696.7,493.0 702.0,494.8 C707.3,496.6 713.2,498.5 718.0,500.1 C722.8,501.7 725.9,503.1 730.8,504.4 C735.7,505.7 744.5,507.5 747.2,508.1" fill="none" stroke="#EDB120" stroke-width="2.4" stroke-linejoin="round"/>
<path d="M181.5,449.8 C204.6,450.0 287.3,450.5 320.0,451.2 C352.7,451.9 357.9,452.7 377.9,454.1 C397.9,455.5 422.5,457.8 440.0,459.4 C457.5,461.0 468.5,461.8 482.7,463.7 C496.9,465.6 511.1,468.4 525.3,470.6 C539.5,472.8 557.2,475.3 568.0,477.0 C578.8,478.7 582.8,479.8 590.0,480.9 C597.2,482.0 604.2,482.9 611.3,483.6 C618.4,484.3 625.6,484.9 632.7,485.2 C639.8,485.5 647.8,485.4 654.0,485.4 C660.2,485.4 664.7,485.3 670.0,485.2 C675.3,485.1 680.7,484.7 686.0,484.5 C691.3,484.3 696.7,484.1 702.0,483.9 C707.3,483.7 710.5,483.7 718.0,483.4 C725.5,483.1 742.3,482.5 747.2,482.3" fill="none" stroke="#7E2F8E" stroke-width="2.4" stroke-linejoin="round"/>
<path d="M181.52,452.10 181.63,452.10 182.05,452.10 182.53,452.10 183.05,452.10 183.62,452.09 184.24,452.09 184.89,452.09 185.58,452.08 186.31,452.08 187.06,452.08 187.84,452.07 188.65,452.07 189.47,452.06 190.12,452.06M199.00,452.06 199.27,452.06 200.08,452.06 200.87,452.07 201.63,452.08 202.37,452.09 203.07,452.10 203.86,452.11 204.69,452.13 205.51,452.15 206.31,452.17 207.09,452.19 207.60,452.21M216.31,452.59 216.41,452.59 217.13,452.63 217.86,452.66 218.60,452.70 219.34,452.74 220.09,452.78 220.85,452.81 221.59,452.85 222.34,452.89 223.08,452.92 223.83,452.96 224.58,453.00 224.89,453.02M234.11,453.55 234.13,453.55 234.89,453.59 235.64,453.64 236.40,453.68 237.15,453.73 237.90,453.77 238.65,453.81 239.41,453.86 240.17,453.90 240.93,453.95 241.69,453.99 242.45,454.03 242.69,454.05M251.81,454.60 252.06,454.61 252.81,454.66 253.57,454.72 254.33,454.77 255.09,454.82 255.85,454.88 256.60,454.94 257.35,455.00 258.10,455.06 258.85,455.12 259.60,455.18 260.35,455.24 260.39,455.25M269.52,456.08 269.59,456.09 270.34,456.16 271.08,456.23 271.82,456.30 272.57,456.38 273.31,456.45 274.05,456.53 274.81,456.60 275.57,456.68 276.33,456.76 277.08,456.83 277.84,456.91 278.08,456.94M286.83,457.90 286.85,457.90 287.60,457.98 288.35,458.07 289.10,458.16 289.85,458.25 290.60,458.34 291.35,458.43 292.10,458.52 292.85,458.61 293.61,458.70 294.36,458.79 295.11,458.88 295.37,458.91M304.15,460.05 304.38,460.08 305.13,460.19 305.89,460.30 306.64,460.42 307.39,460.54 308.15,460.66 308.90,460.78 309.64,460.91 310.39,461.04 311.13,461.17 311.88,461.30 312.63,461.44 312.64,461.44M321.59,463.21 321.60,463.21 322.34,463.37 323.09,463.53 323.83,463.68 324.57,463.84 325.31,464.00 326.05,464.15 326.80,464.31 327.54,464.47 328.28,464.63 329.03,464.79 329.77,464.95 330.00,465.00M338.63,466.97 338.87,467.02 339.60,467.20 340.34,467.38 341.08,467.57 341.82,467.75 342.55,467.94 343.29,468.12 344.02,468.31 344.75,468.50 345.48,468.69 346.21,468.88 346.94,469.07 346.96,469.08M355.70,471.51 355.71,471.52 356.44,471.74 357.16,471.96 357.88,472.18 358.60,472.41 359.32,472.64 360.04,472.88 360.75,473.12 361.47,473.36 362.18,473.60 362.89,473.85 363.60,474.10 363.87,474.19M372.22,477.37 372.25,477.38 372.95,477.66 373.65,477.94 374.34,478.23 375.04,478.52 375.74,478.81 376.43,479.10 377.13,479.39 377.83,479.68 378.53,479.98 379.22,480.28 379.92,480.58 380.16,480.68M388.46,484.46 388.47,484.46 389.16,484.80 389.83,485.14 390.51,485.48 391.18,485.82 391.85,486.17 392.53,486.52 393.20,486.88 393.87,487.24 394.54,487.61 395.20,487.98 395.87,488.36 396.07,488.47M403.68,493.08 403.89,493.21 404.53,493.62 405.17,494.03 405.81,494.44 406.45,494.85 407.09,495.26 407.72,495.67 408.35,496.08 408.98,496.49 409.61,496.90 410.24,497.32 410.86,497.73 410.90,497.75M418.25,502.83 418.29,502.86 418.90,503.30 419.50,503.75 420.11,504.19 420.71,504.64 421.30,505.10 421.90,505.55 422.50,506.02 423.10,506.49 423.70,506.97 424.29,507.44 424.88,507.92 425.07,508.07M431.80,513.83 431.83,513.86 432.39,514.36 432.95,514.86 433.51,515.36 434.07,515.87 434.63,516.37 435.19,516.87 435.76,517.38 436.32,517.89 436.88,518.40 437.44,518.90 438.00,519.40 438.19,519.58M444.74,525.80 444.87,525.93 445.41,526.49 445.94,527.05 446.48,527.62 447.02,528.20 447.52,528.75 448.01,529.29 448.49,529.84 448.98,530.40 449.47,530.97 449.95,531.54 450.44,532.12 450.50,532.19M456.48,539.69 456.53,539.75 456.99,540.35 457.45,540.95 457.91,541.54 458.36,542.13 458.81,542.71 459.26,543.31 459.73,543.93 460.20,544.55 460.66,545.17 461.12,545.79 461.57,546.40 461.67,546.54M466.74,553.67 466.76,553.70 467.19,554.31 467.61,554.92 468.04,555.54 468.48,556.16 468.91,556.78 469.34,557.40 469.77,558.01 470.19,558.62 470.62,559.24 471.05,559.85 471.48,560.46 471.66,560.73M476.85,568.30 476.87,568.34 477.29,568.97 477.70,569.59 478.11,570.22 478.52,570.85 478.93,571.48 479.34,572.11 479.74,572.75 480.15,573.39 480.55,574.03 480.96,574.67 481.36,575.32 481.49,575.54M486.15,583.28 486.16,583.30 486.54,583.95 486.92,584.60 487.30,585.25 487.67,585.91 488.05,586.56 488.42,587.22 488.80,587.88 489.17,588.54 489.54,589.20 489.91,589.86 490.27,590.52 490.40,590.75M494.67,598.71 494.70,598.75 495.05,599.42 495.40,600.08 495.76,600.74 496.11,601.40 496.46,602.06 496.82,602.72 497.18,603.40 497.54,604.07 497.90,604.74 498.26,605.41 498.62,606.07 498.73,606.29M502.75,613.82 502.87,614.03 503.22,614.69 503.58,615.36 503.95,616.03 504.31,616.70 504.68,617.38 505.04,618.04 505.40,618.70 505.76,619.36 506.12,620.02 506.48,620.69 506.84,621.35 506.86,621.38M511.26,629.37 511.27,629.38 511.64,630.04 512.02,630.70 512.39,631.36 512.77,632.02 513.15,632.67 513.53,633.32 513.92,633.98 514.31,634.64 514.71,635.30 515.11,635.97 515.51,636.64 515.60,636.79M520.19,644.17 520.23,644.23 520.62,644.85 521.01,645.46 521.39,646.06 521.76,646.65 522.14,647.23 522.50,647.80 522.97,648.53 523.43,649.24 523.89,649.95 524.34,650.65 524.78,651.33 524.83,651.41M530.34,659.48 530.35,659.48 530.83,660.17 531.29,660.82 531.72,661.44 532.14,662.04 532.55,662.61 532.97,663.17 533.40,663.71 533.85,664.26 534.32,664.80 534.83,665.35 535.39,665.92 535.68,666.20M542.55,671.73 542.58,671.76 543.26,672.21 543.96,672.66 544.68,673.10 545.43,673.55 546.20,674.00 546.77,674.32 547.36,674.65 547.97,674.99 548.59,675.33 549.22,675.67 549.87,676.01 549.97,676.06M558.16,679.92 558.34,680.00 559.07,680.29 559.80,680.56 560.53,680.83 561.25,681.08 561.96,681.32 562.68,681.55 563.41,681.77 564.14,681.98 564.87,682.17 565.60,682.36 566.34,682.54 566.34,682.54M575.13,684.10 575.33,684.12 576.09,684.22 576.85,684.31 577.62,684.40 578.38,684.49 579.14,684.57 579.89,684.65 580.63,684.72 581.37,684.79 582.11,684.85 582.86,684.91 583.61,684.96 583.68,684.96M593.10,685.24 593.19,685.24 593.94,685.24 594.69,685.23 595.43,685.23 596.17,685.22 596.91,685.21 597.66,685.20 598.43,685.18 599.20,685.16 599.97,685.13 600.74,685.11 601.50,685.08 601.70,685.07M610.32,684.45 610.56,684.43 611.31,684.36 612.07,684.28 612.82,684.20 613.58,684.12 614.35,684.03 615.09,683.94 615.84,683.85 616.58,683.76 617.33,683.66 618.07,683.56 618.82,683.45 618.86,683.45M628.27,681.90 628.29,681.90 629.03,681.76 629.78,681.62 630.52,681.48 631.26,681.34 632.00,681.20 632.74,681.06 633.48,680.91 634.22,680.77 634.95,680.62 635.69,680.47 636.43,680.32 636.71,680.27M644.93,678.44 644.98,678.43 645.71,678.25 646.44,678.07 647.17,677.89 647.89,677.71 648.62,677.53 649.34,677.34 650.08,677.14 650.81,676.95 651.54,676.76 652.27,676.56 653.00,676.36 653.26,676.30M661.73,673.79 661.95,673.72 662.67,673.48 663.39,673.24 664.12,672.99 664.84,672.74 665.56,672.49 666.27,672.23 666.97,671.97 667.67,671.71 668.38,671.44 669.08,671.16 669.79,670.89 669.82,670.87M678.40,667.21 678.42,667.20 679.11,666.88 679.80,666.57 680.49,666.25 681.17,665.93 681.85,665.61 682.53,665.29 683.23,664.96 683.92,664.63 684.61,664.30 685.30,663.97 685.98,663.63 686.18,663.54M694.07,659.44 694.29,659.32 694.95,658.95 695.61,658.57 696.27,658.20 696.93,657.82 697.58,657.43 698.23,657.04 698.87,656.65 699.51,656.26 700.15,655.87 700.79,655.47 701.43,655.06 701.46,655.04M709.12,649.87 709.14,649.85 709.76,649.41 710.37,648.97 710.98,648.53 711.59,648.09 712.20,647.65 712.80,647.20 713.41,646.76 714.01,646.32 714.61,645.87 715.21,645.42 715.81,644.97 716.05,644.79M723.04,639.26 723.05,639.25 723.62,638.76 724.20,638.27 724.77,637.78 725.34,637.28 725.91,636.77 726.47,636.27 727.03,635.75 727.59,635.23 728.15,634.69 728.71,634.14 729.28,633.58 729.40,633.47M735.74,626.91 735.87,626.78 736.38,626.26 736.87,625.74 737.36,625.24 737.84,624.76 738.30,624.29 738.75,623.84 739.37,623.24 740.07,622.57 740.75,621.92 741.43,621.28 741.86,620.88" fill="none" stroke="#0072BD" stroke-width="2.5" stroke-linejoin="round"/>
<path d="M926.5,433.1 L926.5,711.0 L1492.4,711.0" fill="none" stroke="#959595" stroke-width="1.15"/>
<line x1="926.5" y1="711.0" x2="926.5" y2="706.0" stroke="#959595" stroke-width="1.1"/>
<line x1="975.5" y1="711.0" x2="975.5" y2="708.0" stroke="#959595" stroke-width="1.1"/>
<line x1="1004.2" y1="711.0" x2="1004.2" y2="708.0" stroke="#959595" stroke-width="1.1"/>
<line x1="1024.5" y1="711.0" x2="1024.5" y2="708.0" stroke="#959595" stroke-width="1.1"/>
<line x1="1040.3" y1="711.0" x2="1040.3" y2="708.0" stroke="#959595" stroke-width="1.1"/>
<line x1="1053.1" y1="711.0" x2="1053.1" y2="708.0" stroke="#959595" stroke-width="1.1"/>
<line x1="1064.0" y1="711.0" x2="1064.0" y2="708.0" stroke="#959595" stroke-width="1.1"/>
<line x1="1073.5" y1="711.0" x2="1073.5" y2="708.0" stroke="#959595" stroke-width="1.1"/>
<line x1="1081.8" y1="711.0" x2="1081.8" y2="708.0" stroke="#959595" stroke-width="1.1"/>
<line x1="1089.2" y1="711.0" x2="1089.2" y2="706.0" stroke="#959595" stroke-width="1.1"/>
<line x1="1138.2" y1="711.0" x2="1138.2" y2="708.0" stroke="#959595" stroke-width="1.1"/>
<line x1="1166.9" y1="711.0" x2="1166.9" y2="708.0" stroke="#959595" stroke-width="1.1"/>
<line x1="1187.2" y1="711.0" x2="1187.2" y2="708.0" stroke="#959595" stroke-width="1.1"/>
<line x1="1203.0" y1="711.0" x2="1203.0" y2="708.0" stroke="#959595" stroke-width="1.1"/>
<line x1="1215.9" y1="711.0" x2="1215.9" y2="708.0" stroke="#959595" stroke-width="1.1"/>
<line x1="1226.8" y1="711.0" x2="1226.8" y2="708.0" stroke="#959595" stroke-width="1.1"/>
<line x1="1236.2" y1="711.0" x2="1236.2" y2="708.0" stroke="#959595" stroke-width="1.1"/>
<line x1="1244.6" y1="711.0" x2="1244.6" y2="708.0" stroke="#959595" stroke-width="1.1"/>
<line x1="1252.0" y1="711.0" x2="1252.0" y2="706.0" stroke="#959595" stroke-width="1.1"/>
<line x1="1301.0" y1="711.0" x2="1301.0" y2="708.0" stroke="#959595" stroke-width="1.1"/>
<line x1="1329.7" y1="711.0" x2="1329.7" y2="708.0" stroke="#959595" stroke-width="1.1"/>
<line x1="1350.0" y1="711.0" x2="1350.0" y2="708.0" stroke="#959595" stroke-width="1.1"/>
<line x1="1365.8" y1="711.0" x2="1365.8" y2="708.0" stroke="#959595" stroke-width="1.1"/>
<line x1="1378.6" y1="711.0" x2="1378.6" y2="708.0" stroke="#959595" stroke-width="1.1"/>
<line x1="1389.5" y1="711.0" x2="1389.5" y2="708.0" stroke="#959595" stroke-width="1.1"/>
<line x1="1399.0" y1="711.0" x2="1399.0" y2="708.0" stroke="#959595" stroke-width="1.1"/>
<line x1="1407.3" y1="711.0" x2="1407.3" y2="708.0" stroke="#959595" stroke-width="1.1"/>
<line x1="1414.8" y1="711.0" x2="1414.8" y2="706.0" stroke="#959595" stroke-width="1.1"/>
<line x1="1463.7" y1="711.0" x2="1463.7" y2="708.0" stroke="#959595" stroke-width="1.1"/>
<line x1="1492.4" y1="711.0" x2="1492.4" y2="708.0" stroke="#959595" stroke-width="1.1"/>
<line x1="926.5" y1="458.7" x2="932.3" y2="458.7" stroke="#333" stroke-width="1.9"/>
<path d="M926.7,706.0 C929.6,706.3 931.8,707.7 944.0,708.0 C956.2,708.3 974.0,708.0 1000.0,707.9 C1026.0,707.8 1072.2,707.5 1100.0,707.3 C1127.8,707.1 1146.7,707.1 1166.7,706.7 C1186.7,706.3 1204.5,705.4 1220.0,704.7 C1235.5,704.0 1248.3,703.1 1260.0,702.4 C1271.7,701.6 1280.3,701.1 1290.0,700.2 C1299.7,699.3 1308.9,698.5 1318.3,696.9 C1327.7,695.2 1337.1,693.0 1346.5,690.3 C1355.9,687.6 1367.0,683.8 1374.8,680.9 C1382.6,678.0 1387.7,675.8 1393.6,672.9 C1399.5,670.0 1405.4,666.3 1410.0,663.5 C1414.6,660.7 1416.9,658.7 1421.1,655.9 C1425.2,653.1 1431.0,650.0 1434.9,646.9 C1438.8,643.8 1441.4,640.6 1444.6,637.3 C1447.8,634.0 1451.0,630.8 1454.2,626.9 C1457.4,623.0 1460.7,618.5 1463.9,613.8 C1467.1,609.1 1470.4,603.8 1473.6,598.5 C1476.8,593.2 1480.2,587.4 1483.3,582.0 C1486.4,576.6 1490.9,568.8 1492.4,566.1" fill="none" stroke="#0072BD" stroke-width="2.4" stroke-linejoin="round"/>
<path d="M926.7,709.9 C942.5,709.5 992.4,708.8 1021.3,707.7 C1050.2,706.6 1080.2,704.6 1100.0,703.3 C1119.8,702.0 1126.7,700.9 1140.0,700.0 C1153.3,699.1 1166.7,698.6 1180.0,698.0 C1193.3,697.4 1206.7,697.0 1220.0,696.3 C1233.3,695.6 1248.3,694.8 1260.0,694.0 C1271.7,693.2 1280.3,692.7 1290.0,691.7 C1299.7,690.7 1308.9,689.4 1318.3,687.9 C1327.7,686.4 1337.1,684.9 1346.5,682.8 C1355.9,680.7 1367.0,677.6 1374.8,675.2 C1382.6,672.8 1387.7,671.1 1393.6,668.6 C1399.5,666.1 1405.4,663.1 1410.0,660.5 C1414.6,657.9 1416.9,655.8 1421.1,653.2 C1425.2,650.6 1431.0,647.7 1434.9,644.9 C1438.8,642.1 1441.4,639.4 1444.6,636.6 C1447.8,633.8 1451.0,631.3 1454.2,628.3 C1457.4,625.3 1460.7,622.0 1463.9,618.6 C1467.1,615.2 1470.4,611.9 1473.6,608.2 C1476.8,604.5 1480.2,600.5 1483.3,596.5 C1486.4,592.5 1490.9,586.1 1492.4,584.0" fill="none" stroke="#D95319" stroke-width="2.4" stroke-linejoin="round"/>
<path d="M926.7,709.9 C942.5,709.6 992.4,708.9 1021.3,707.9 C1050.2,706.9 1080.2,704.9 1100.0,703.7 C1119.8,702.5 1126.7,702.2 1140.0,700.7 C1153.3,699.2 1166.7,697.0 1180.0,694.9 C1193.3,692.8 1206.7,690.3 1220.0,688.0 C1233.3,685.7 1248.3,683.1 1260.0,681.3 C1271.7,679.5 1280.3,678.6 1290.0,677.1 C1299.7,675.6 1308.9,674.0 1318.3,672.4 C1327.7,670.8 1337.1,669.0 1346.5,667.2 C1355.9,665.4 1367.0,663.3 1374.8,661.6 C1382.6,659.9 1387.7,658.7 1393.6,657.0 C1399.5,655.3 1405.0,653.1 1410.0,651.2 C1415.0,649.3 1419.2,647.7 1423.8,645.8 C1428.4,643.9 1433.1,641.9 1437.7,640.0 C1442.3,638.1 1446.9,636.2 1451.5,634.5 C1456.1,632.8 1460.7,631.2 1465.3,629.7 C1469.9,628.2 1474.6,626.7 1479.1,625.5 C1483.6,624.3 1490.2,623.2 1492.4,622.7" fill="none" stroke="#EDB120" stroke-width="2.4" stroke-linejoin="round"/>
<path d="M926.7,710.3 C942.5,710.1 992.4,710.0 1021.3,709.0 C1050.2,708.0 1080.2,705.5 1100.0,704.0 C1119.8,702.5 1126.7,701.7 1140.0,700.0 C1153.3,698.3 1166.7,696.3 1180.0,694.0 C1193.3,691.7 1206.7,689.1 1220.0,686.0 C1233.3,682.9 1248.3,678.4 1260.0,675.3 C1271.7,672.2 1280.3,670.1 1290.0,667.5 C1299.7,664.9 1308.9,662.2 1318.3,659.7 C1327.7,657.2 1337.1,654.7 1346.5,652.6 C1355.9,650.5 1367.0,648.4 1374.8,647.0 C1382.6,645.6 1387.7,644.9 1393.6,644.1 C1399.5,643.3 1405.0,642.9 1410.0,642.4 C1415.0,641.9 1419.2,641.6 1423.8,641.4 C1428.4,641.2 1433.1,641.2 1437.7,641.4 C1442.3,641.6 1447.4,641.9 1451.5,642.4 C1455.6,642.9 1458.8,643.6 1462.5,644.2 C1466.2,644.8 1470.1,645.2 1473.6,646.2 C1477.1,647.2 1480.2,649.1 1483.3,650.4 C1486.4,651.7 1490.9,653.3 1492.4,653.9" fill="none" stroke="#7E2F8E" stroke-width="2.4" stroke-linejoin="round"/>
<path d="M926.72,705.80 926.83,705.80 927.25,705.82 927.72,705.84 928.24,705.87 928.81,705.90 929.42,705.93 930.07,705.96 930.76,706.00 931.47,706.04 932.22,706.08 933.00,706.12 933.80,706.16 934.62,706.20 935.31,706.24M944.20,706.58 944.40,706.58 945.22,706.60 946.02,706.61 946.80,706.61 947.55,706.61 948.27,706.60 949.05,706.59 949.86,706.57 950.67,706.54 951.47,706.50 952.26,706.46 952.80,706.43M962.62,705.52 962.77,705.50 963.50,705.43 964.23,705.35 964.96,705.28 965.69,705.21 966.41,705.14 967.16,705.08 967.94,705.01 968.71,704.94 969.48,704.88 970.25,704.82 971.01,704.75 971.18,704.74M979.73,703.98 979.76,703.97 980.50,703.90 981.25,703.82 982.00,703.73 982.75,703.65 983.50,703.56 984.25,703.47 984.99,703.38 985.73,703.28 986.47,703.18 987.21,703.08 987.95,702.97 988.26,702.92M996.85,701.58 997.09,701.54 997.84,701.42 998.59,701.30 999.34,701.18 1000.09,701.06 1000.85,700.94 1001.59,700.82 1002.33,700.71 1003.07,700.60 1003.82,700.48 1004.57,700.37 1005.32,700.26 1005.35,700.25M1014.56,698.83 1014.62,698.82 1015.36,698.70 1016.11,698.57 1016.85,698.45 1017.58,698.32 1018.31,698.19 1019.05,698.05 1019.81,697.91 1020.56,697.77 1021.30,697.63 1022.04,697.49 1022.78,697.34 1023.02,697.29M1031.31,695.54 1031.54,695.49 1032.27,695.33 1033.01,695.16 1033.75,695.00 1034.50,694.83 1035.25,694.66 1035.98,694.49 1036.69,694.33 1037.41,694.16 1038.13,693.99 1038.86,693.83 1039.59,693.66 1039.69,693.63M1048.84,691.40 1048.88,691.39 1049.61,691.20 1050.34,691.01 1051.07,690.82 1051.79,690.62 1052.52,690.43 1053.24,690.23 1053.98,690.03 1054.71,689.83 1055.44,689.63 1056.17,689.43 1056.91,689.22 1057.15,689.16M1066.01,686.54 1066.10,686.51 1066.82,686.28 1067.53,686.05 1068.23,685.82 1068.94,685.59 1069.64,685.36 1070.35,685.12 1071.08,684.86 1071.80,684.61 1072.52,684.36 1073.24,684.10 1073.95,683.85 1074.15,683.77M1081.93,680.75 1082.11,680.68 1082.81,680.39 1083.52,680.10 1084.23,679.81 1084.94,679.51 1085.66,679.20 1086.35,678.91 1087.03,678.62 1087.71,678.32 1088.40,678.03 1089.08,677.72 1089.78,677.42 1089.84,677.39M1098.31,673.48 1098.35,673.46 1099.04,673.14 1099.72,672.81 1100.39,672.48 1101.07,672.15 1101.74,671.83 1102.40,671.50 1103.10,671.16 1103.79,670.81 1104.48,670.47 1105.16,670.13 1105.84,669.79 1106.03,669.69M1113.85,665.60 1114.06,665.48 1114.73,665.12 1115.39,664.75 1116.05,664.38 1116.71,664.01 1117.38,663.63 1118.03,663.25 1118.68,662.88 1119.33,662.50 1119.97,662.13 1120.62,661.75 1121.27,661.37 1121.32,661.34M1129.02,656.58 1129.22,656.45 1129.85,656.04 1130.49,655.62 1131.13,655.20 1131.76,654.77 1132.39,654.34 1133.01,653.92 1133.62,653.50 1134.23,653.07 1134.84,652.63 1135.45,652.20 1136.06,651.76 1136.11,651.72M1143.61,646.04 1143.67,646.00 1144.26,645.54 1144.85,645.08 1145.44,644.62 1146.03,644.16 1146.61,643.70 1147.20,643.24 1147.81,642.77 1148.41,642.30 1149.01,641.82 1149.61,641.35 1150.21,640.88 1150.38,640.74M1157.29,635.14 1157.47,635.00 1158.06,634.51 1158.64,634.03 1159.23,633.54 1159.82,633.05 1160.40,632.56 1160.98,632.08 1161.55,631.60 1162.13,631.12 1162.70,630.64 1163.28,630.15 1163.85,629.66 1163.89,629.63M1170.86,623.63 1170.90,623.59 1171.47,623.10 1172.04,622.60 1172.60,622.11 1173.16,621.62 1173.73,621.13 1174.29,620.63 1174.87,620.13 1175.44,619.62 1176.01,619.12 1176.58,618.61 1177.14,618.11 1177.32,617.95M1183.89,612.06 1183.89,612.06 1184.46,611.55 1185.02,611.05 1185.59,610.54 1186.15,610.04 1186.72,609.54 1187.29,609.03 1187.85,608.53 1188.40,608.03 1188.96,607.52 1189.52,607.02 1190.07,606.51 1190.28,606.31M1196.95,600.30 1196.98,600.27 1197.55,599.79 1198.13,599.31 1198.72,598.83 1199.31,598.36 1199.90,597.90 1200.50,597.45 1201.10,597.00 1201.71,596.54 1202.31,596.09 1202.92,595.63 1203.53,595.18 1203.74,595.02M1211.26,590.03 1211.32,590.00 1211.98,589.63 1212.64,589.28 1213.31,588.94 1213.97,588.61 1214.65,588.30 1215.33,588.00 1216.03,587.70 1216.73,587.41 1217.45,587.12 1218.17,586.84 1218.90,586.56 1219.09,586.49M1227.72,584.13 1227.87,584.10 1228.61,584.00 1229.35,583.92 1230.08,583.86 1230.80,583.82 1231.52,583.80 1232.25,583.80 1232.99,583.83 1233.74,583.88 1234.49,583.95 1235.23,584.05 1235.98,584.16 1236.28,584.21M1244.00,586.59 1244.22,586.69 1244.91,587.02 1245.59,587.36 1246.27,587.71 1246.93,588.08 1247.58,588.47 1248.20,588.85 1248.79,589.25 1249.37,589.67 1249.95,590.11 1250.52,590.57 1251.09,591.05 1251.23,591.18M1257.61,597.93 1257.61,597.93 1258.11,598.52 1258.61,599.10 1259.10,599.68 1259.59,600.26 1260.08,600.83 1260.57,601.39 1261.06,601.98 1261.55,602.57 1262.03,603.17 1262.50,603.77 1262.96,604.38 1263.09,604.55M1268.11,611.56 1268.26,611.76 1268.70,612.38 1269.15,612.99 1269.61,613.59 1270.07,614.20 1270.54,614.80 1271.01,615.39 1271.48,615.99 1271.95,616.58 1272.42,617.18 1272.89,617.77 1273.36,618.37 1273.36,618.38M1279.02,625.20 1279.03,625.22 1279.54,625.78 1280.06,626.33 1280.58,626.88 1281.11,627.42 1281.64,627.95 1282.18,628.47 1282.72,629.00 1283.27,629.52 1283.82,630.04 1284.37,630.56 1284.93,631.08 1285.12,631.26M1291.91,636.81 1291.96,636.84 1292.58,637.26 1293.22,637.66 1293.86,638.05 1294.50,638.42 1295.16,638.77 1295.82,639.11 1296.49,639.43 1297.16,639.74 1297.85,640.04 1298.55,640.33 1299.25,640.62 1299.54,640.72M1308.34,643.14 1308.40,643.15 1309.15,643.28 1309.89,643.39 1310.64,643.49 1311.38,643.58 1312.11,643.66 1312.85,643.72 1313.60,643.77 1314.35,643.80 1315.10,643.82 1315.86,643.82 1316.61,643.81 1316.90,643.80M1325.41,642.76 1325.63,642.71 1326.38,642.55 1327.13,642.39 1327.87,642.22 1328.61,642.04 1329.35,641.86 1330.07,641.68 1330.78,641.49 1331.49,641.28 1332.20,641.07 1332.91,640.85 1333.61,640.61 1333.72,640.58M1342.25,637.11 1342.25,637.10 1342.94,636.78 1343.62,636.45 1344.30,636.11 1344.98,635.77 1345.65,635.43 1346.32,635.09 1346.98,634.73 1347.64,634.37 1348.29,634.00 1348.94,633.62 1349.59,633.23 1349.84,633.08M1357.75,627.82 1357.84,627.76 1358.45,627.34 1359.07,626.91 1359.68,626.49 1360.29,626.08 1360.90,625.67 1361.52,625.26 1362.16,624.83 1362.81,624.40 1363.45,623.98 1364.08,623.57 1364.72,623.15 1364.89,623.04M1371.66,618.47 1371.72,618.43 1372.32,618.00 1372.92,617.56 1373.52,617.12 1374.11,616.67 1374.71,616.21 1375.30,615.74 1375.88,615.28 1376.47,614.81 1377.05,614.34 1377.62,613.87 1378.19,613.39 1378.44,613.19M1384.64,607.62 1384.72,607.55 1385.27,607.01 1385.83,606.47 1386.39,605.92 1386.95,605.36 1387.51,604.79 1388.03,604.26 1388.53,603.75 1389.03,603.22 1389.53,602.69 1390.03,602.15 1390.53,601.61 1390.65,601.47M1397.52,593.58 1397.52,593.58 1398.02,592.99 1398.51,592.41 1399.00,591.83 1399.49,591.26 1399.98,590.68 1400.46,590.11 1400.96,589.53 1401.45,588.94 1401.95,588.35 1402.45,587.76 1402.94,587.17 1403.07,587.01M1409.62,579.06 1409.76,578.88 1410.22,578.31 1410.68,577.74 1411.13,577.17 1411.57,576.62 1412.01,576.06 1412.47,575.48 1412.97,574.85 1413.46,574.23 1413.95,573.61 1414.42,573.01 1414.89,572.42 1414.96,572.32M1419.31,566.60 1419.44,566.42 1419.88,565.82 1420.31,565.21 1420.75,564.59 1421.20,563.96 1421.65,563.32 1422.07,562.71 1422.47,562.12 1422.88,561.52 1423.28,560.91 1423.69,560.29 1424.09,559.67 1424.19,559.52M1429.10,551.73 1429.23,551.52 1429.63,550.87 1430.04,550.23 1430.45,549.59 1430.86,548.95 1431.26,548.31 1431.67,547.68 1432.08,547.05 1432.49,546.42 1432.90,545.79 1433.32,545.16 1433.73,544.53 1433.75,544.50M1438.78,536.82 1438.82,536.77 1439.22,536.14 1439.63,535.51 1440.03,534.88 1440.43,534.25 1440.83,533.62 1441.23,532.99 1441.63,532.34 1442.03,531.70 1442.43,531.06 1442.82,530.41 1443.21,529.77 1443.35,529.54M1447.95,521.87 1447.98,521.82 1448.37,521.18 1448.76,520.54 1449.15,519.90 1449.54,519.26 1449.94,518.62 1450.33,517.99 1450.74,517.34 1451.14,516.70 1451.55,516.06 1451.95,515.43 1452.36,514.79 1452.50,514.57M1457.27,507.21 1457.28,507.19 1457.69,506.56 1458.10,505.93 1458.51,505.29 1458.92,504.66 1459.33,504.02 1459.74,503.39 1460.14,502.75 1460.54,502.11 1460.95,501.47 1461.35,500.84 1461.75,500.20 1461.89,499.96M1466.57,492.51 1466.70,492.30 1467.11,491.66 1467.52,491.03 1467.93,490.39 1468.34,489.75 1468.76,489.11 1469.18,488.48 1469.59,487.85 1470.01,487.23 1470.42,486.60 1470.84,485.97 1471.26,485.35 1471.28,485.32M1476.41,477.80 1476.53,477.64 1476.97,477.01 1477.41,476.38 1477.85,475.76 1478.30,475.13 1478.75,474.51 1479.19,473.90 1479.65,473.28 1480.12,472.64 1480.60,471.99 1481.09,471.33 1481.46,470.84M1487.39,463.11 1487.41,463.08 1487.85,462.52 1488.26,461.97 1488.66,461.46 1489.04,460.97 1489.39,460.51 1489.71,460.09 1490.00,459.70 1491.02,458.32 1491.64,457.46 1491.98,456.95 1492.17,456.65 1492.33,456.40 1492.40,456.30" fill="none" stroke="#0072BD" stroke-width="2.5" stroke-linejoin="round"/>
<line x1="925.9" y1="571.4" x2="927.1" y2="571.4" stroke="#6a6a6a" stroke-width="1.2"/>
<line x1="925.9" y1="641.4" x2="927.1" y2="641.4" stroke="#6a6a6a" stroke-width="1.2"/>

<g style="opacity:0.999">
<text x="223.7" y="174.2" font-size="23.5" stroke="#000" stroke-width="0.2">Clonal</text>
<text x="223.89999999999998" y="204.1" font-size="23.5" stroke="#000" stroke-width="0.2">D<tspan font-size="18" dy="11.2" dx="0.6">W</tspan><tspan dy="-11.2" dx="0.8">=0.02</tspan></text>
<text x="223.89999999999998" y="244.8" font-size="23.5" stroke="#000" stroke-width="0.2">D<tspan font-size="18" dy="11.2" dx="0.6">W</tspan><tspan dy="-11.2" dx="0.8">=0.</tspan></text>
<path d="M763,0 L583,0 L583,1147 Q518,1085 413,1023 Q308,961 223,930 L223,1104 Q374,1175 487,1276 Q600,1377 647,1472 L763,1472 Z" transform="translate(292.56,244.8) scale(0.01147,-0.01147)" fill="#000" stroke="#000" stroke-width="17.4"/>
<text x="223.7" y="284.6" font-size="23.5" stroke="#000" stroke-width="0.2">Uniform</text>
<text x="223.7" y="313.9" font-size="23.5" stroke="#000" stroke-width="0.2">Monomorphic Population</text>
<path d="M763,0 L583,0 L583,1147 Q518,1085 413,1023 Q308,961 223,930 L223,1104 Q374,1175 487,1276 Q600,1377 647,1472 L763,1472 Z" transform="translate(161.62,364.6) scale(0.01245,-0.01245)" fill="#000"/><text x="175.80" y="364.6" font-size="25.5">0<tspan font-size="20.5" dy="-12.3">0</tspan></text>
<path d="M763,0 L583,0 L583,1147 Q518,1085 413,1023 Q308,961 223,930 L223,1104 Q374,1175 487,1276 Q600,1377 647,1472 L763,1472 Z" transform="translate(324.32,364.6) scale(0.01245,-0.01245)" fill="#000"/><text x="338.50" y="364.6" font-size="25.5">0<tspan font-size="20.5" dy="-12.3">1</tspan></text>
<path d="M763,0 L583,0 L583,1147 Q518,1085 413,1023 Q308,961 223,930 L223,1104 Q374,1175 487,1276 Q600,1377 647,1472 L763,1472 Z" transform="translate(487.02,364.6) scale(0.01245,-0.01245)" fill="#000"/><text x="501.20" y="364.6" font-size="25.5">0<tspan font-size="20.5" dy="-12.3">2</tspan></text>
<path d="M763,0 L583,0 L583,1147 Q518,1085 413,1023 Q308,961 223,930 L223,1104 Q374,1175 487,1276 Q600,1377 647,1472 L763,1472 Z" transform="translate(649.72,364.6) scale(0.01245,-0.01245)" fill="#000"/><text x="663.90" y="364.6" font-size="25.5">0<tspan font-size="20.5" dy="-12.3">3</tspan></text>
<text x="164" y="100.7" text-anchor="end" font-size="25">4·10<tspan font-size="18.5" dy="-9.8">4</tspan></text>
<text x="164" y="219.8" text-anchor="end" font-size="25">2·10<tspan font-size="18.5" dy="-9.8">4</tspan></text>
<text x="168" y="324.6" text-anchor="end" font-size="25">0</text>
<text transform="translate(464.5,401) scale(1,1.05)" text-anchor="middle" font-size="28.5">N (number of shelters)</text>
<text transform="translate(49.1,202.5) rotate(-90)" text-anchor="middle" font-size="30.2">Parasite induced</text>
<text transform="translate(85,198.4) rotate(-90)" text-anchor="middle" font-size="30.2">mortality</text>
<text x="0.2" y="43.9" font-size="48" font-weight="bold">(A)</text>
<path d="M763,0 L583,0 L583,1147 Q518,1085 413,1023 Q308,961 223,930 L223,1104 Q374,1175 487,1276 Q600,1377 647,1472 L763,1472 Z" transform="translate(906.62,365) scale(0.01245,-0.01245)" fill="#000"/><text x="920.80" y="365" font-size="25.5">0<tspan font-size="20.5" dy="-12.3">0</tspan></text>
<path d="M763,0 L583,0 L583,1147 Q518,1085 413,1023 Q308,961 223,930 L223,1104 Q374,1175 487,1276 Q600,1377 647,1472 L763,1472 Z" transform="translate(1069.37,365) scale(0.01245,-0.01245)" fill="#000"/><text x="1083.55" y="365" font-size="25.5">0<tspan font-size="20.5" dy="-12.3">1</tspan></text>
<path d="M763,0 L583,0 L583,1147 Q518,1085 413,1023 Q308,961 223,930 L223,1104 Q374,1175 487,1276 Q600,1377 647,1472 L763,1472 Z" transform="translate(1232.12,365) scale(0.01245,-0.01245)" fill="#000"/><text x="1246.30" y="365" font-size="25.5">0<tspan font-size="20.5" dy="-12.3">2</tspan></text>
<path d="M763,0 L583,0 L583,1147 Q518,1085 413,1023 Q308,961 223,930 L223,1104 Q374,1175 487,1276 Q600,1377 647,1472 L763,1472 Z" transform="translate(1394.87,365) scale(0.01245,-0.01245)" fill="#000"/><text x="1409.05" y="365" font-size="25.5">0<tspan font-size="20.5" dy="-12.3">3</tspan></text>
<text x="918.5" y="68.3" text-anchor="end" font-size="25.5">60</text>
<text x="918.5" y="156.8" text-anchor="end" font-size="25.5">40</text>
<text x="918.5" y="245.4" text-anchor="end" font-size="25.5">20</text>
<text x="918.5" y="333.5" text-anchor="end" font-size="25.5">0</text>
<text transform="translate(1210.3,401) scale(1,1.05)" text-anchor="middle" font-size="28.5">N (number of shelters)</text>
<text transform="translate(843.6,183.2) rotate(-90)" text-anchor="middle" font-size="28.4">% Parasite Induced Mortality</text>
<text transform="translate(878.8,183.7) rotate(-90)" text-anchor="middle" font-size="28.4">caused by Fighting</text>
<text x="752.4" y="42.4" font-size="48" font-weight="bold">(B)</text>
<path d="M763,0 L583,0 L583,1147 Q518,1085 413,1023 Q308,961 223,930 L223,1104 Q374,1175 487,1276 Q600,1377 647,1472 L763,1472 Z" transform="translate(161.62,752.6) scale(0.01245,-0.01245)" fill="#000"/><text x="175.80" y="752.6" font-size="25.5">0<tspan font-size="20.5" dy="-12.3">0</tspan></text>
<path d="M763,0 L583,0 L583,1147 Q518,1085 413,1023 Q308,961 223,930 L223,1104 Q374,1175 487,1276 Q600,1377 647,1472 L763,1472 Z" transform="translate(324.32,752.6) scale(0.01245,-0.01245)" fill="#000"/><text x="338.50" y="752.6" font-size="25.5">0<tspan font-size="20.5" dy="-12.3">1</tspan></text>
<path d="M763,0 L583,0 L583,1147 Q518,1085 413,1023 Q308,961 223,930 L223,1104 Q374,1175 487,1276 Q600,1377 647,1472 L763,1472 Z" transform="translate(487.02,752.6) scale(0.01245,-0.01245)" fill="#000"/><text x="501.20" y="752.6" font-size="25.5">0<tspan font-size="20.5" dy="-12.3">2</tspan></text>
<path d="M763,0 L583,0 L583,1147 Q518,1085 413,1023 Q308,961 223,930 L223,1104 Q374,1175 487,1276 Q600,1377 647,1472 L763,1472 Z" transform="translate(649.72,752.6) scale(0.01245,-0.01245)" fill="#000"/><text x="663.90" y="752.6" font-size="25.5">0<tspan font-size="20.5" dy="-12.3">3</tspan></text>
<text x="164" y="487.1" text-anchor="end" font-size="25">4·10<tspan font-size="18.5" dy="-9.8">4</tspan></text>
<text x="164" y="607.2" text-anchor="end" font-size="25">2·10<tspan font-size="18.5" dy="-9.8">4</tspan></text>
<text x="173.5" y="721" text-anchor="end" font-size="25">0</text>
<text transform="translate(464.5,788.1) scale(1,1.05)" text-anchor="middle" font-size="28.5">N (number of shelters)</text>
<text transform="translate(49.4,618.7) rotate(-90)" text-anchor="middle" font-size="30">Non-fighting parasite</text>
<text transform="translate(85,618.4) rotate(-90)" text-anchor="middle" font-size="30" xml:space="preserve">induced  mortality</text>
<text x="4.2" y="443.6" font-size="48" font-weight="bold">(C)</text>
<path d="M763,0 L583,0 L583,1147 Q518,1085 413,1023 Q308,961 223,930 L223,1104 Q374,1175 487,1276 Q600,1377 647,1472 L763,1472 Z" transform="translate(906.62,752.8) scale(0.01245,-0.01245)" fill="#000"/><text x="920.80" y="752.8" font-size="25.5">0<tspan font-size="20.5" dy="-12.3">0</tspan></text>
<path d="M763,0 L583,0 L583,1147 Q518,1085 413,1023 Q308,961 223,930 L223,1104 Q374,1175 487,1276 Q600,1377 647,1472 L763,1472 Z" transform="translate(1069.37,752.8) scale(0.01245,-0.01245)" fill="#000"/><text x="1083.55" y="752.8" font-size="25.5">0<tspan font-size="20.5" dy="-12.3">1</tspan></text>
<path d="M763,0 L583,0 L583,1147 Q518,1085 413,1023 Q308,961 223,930 L223,1104 Q374,1175 487,1276 Q600,1377 647,1472 L763,1472 Z" transform="translate(1232.12,752.8) scale(0.01245,-0.01245)" fill="#000"/><text x="1246.30" y="752.8" font-size="25.5">0<tspan font-size="20.5" dy="-12.3">2</tspan></text>
<path d="M763,0 L583,0 L583,1147 Q518,1085 413,1023 Q308,961 223,930 L223,1104 Q374,1175 487,1276 Q600,1377 647,1472 L763,1472 Z" transform="translate(1394.87,752.8) scale(0.01245,-0.01245)" fill="#000"/><text x="1409.05" y="752.8" font-size="25.5">0<tspan font-size="20.5" dy="-12.3">3</tspan></text>
<text x="907" y="469" text-anchor="end" font-size="25">2500</text>
<text x="918.5" y="721" text-anchor="end" font-size="25.5">0</text>
<text transform="translate(1210.3,788.1) scale(1,1.05)" text-anchor="middle" font-size="28.5">N (number of shelters)</text>
<text transform="translate(800.2,605.9) rotate(-90)" text-anchor="middle" font-size="30">Fighting parasite</text>
<text transform="translate(836,605.7) rotate(-90)" text-anchor="middle" font-size="30" xml:space="preserve">induced  mortality</text>
<text x="763.2" y="444" font-size="48" font-weight="bold">(D)</text>
</g>
</svg>
</body></html>
